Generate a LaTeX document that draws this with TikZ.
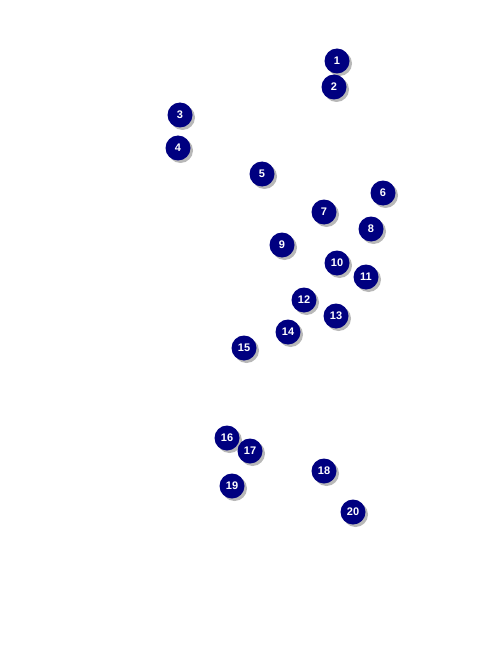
\documentclass[tikz,border=0pt]{standalone}
\usepackage{fontspec}
\setsansfont{Liberation Sans}
\usepackage{xcolor}
\usepackage{tikz}
\usetikzlibrary{shadows}

\definecolor{badgeblue}{RGB}{0,0,128}

\begin{document}
\begin{tikzpicture}[x=1pt, y=-1pt,
		badge/.style={circle, fill=badgeblue, minimum size=25pt, inner sep=0pt,
			text=white, font=\sffamily\bfseries\fontsize{11}{11}\selectfont,
			drop shadow={shadow xshift=2.5pt, shadow yshift=-2.5pt, fill=gray!70, opacity=0.8}}]
		% Page
		\useasboundingbox (0,0) rectangle (476,647);
		
		% Numbered badges: number/x/y
		\foreach \n/\px/\py in {1/337/61, 2/334/87, 3/180/115, 4/178/148, 5/262/174,
			6/383/193, 7/324/212, 8/371/229, 9/282/245, 10/337/263,
			11/366/277, 12/304/300, 13/336/316, 14/288/332, 15/244/348,
			16/227/438, 17/250/451, 18/324/471, 19/232/486, 20/353/512}
		\node[badge] (b\n) at (\px,\py) {\n};
	\end{tikzpicture}
\end{document}
